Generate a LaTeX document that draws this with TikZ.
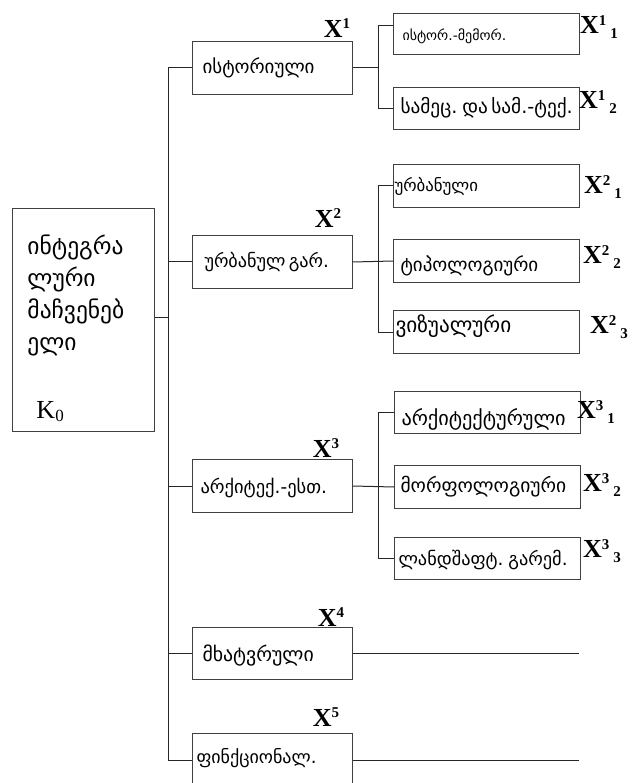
\documentclass[tikz,border=0pt]{standalone}
\usepackage{fontspec}
\setmainfont{Liberation Serif}
\newfontfamily\geo{DejaVu Sans}
\newcommand\gs[1]{\fontsize{#1}{#1}\selectfont}
\newcommand\pd[1]{\hspace*{#1pt}}
\newcommand\Xsup[1]{\textbf{X\raisebox{8.5pt}{\gs{15}#1}}}
\newcommand\Xsub[2]{\textbf{X\raisebox{8pt}{\gs{15}#1}\kern4pt\raisebox{-5pt}{\gs{15}#2}}}
\begin{document}
\begin{tikzpicture}[x=1pt,y=-1pt,
  lin/.style={draw=black!85, line width=1pt},
  bx/.style={draw=black!75, line width=1pt, rectangle, anchor=north west,
    align=left, inner xsep=0pt, inner ysep=0pt, font=\geo},
  one/.style={text height=#1, text depth=0pt},
  one/.default=10pt,
  mainbx/.style={bx, one, text width=160pt, minimum height=53pt},
  subbx/.style={bx, one, text width=186pt},
  xl/.style={font=\gs{26}, inner sep=0pt}]
\useasboundingbox (0,0) rectangle (632,783);
\begin{scope}
\clip (0,0) rectangle (632,783);
% main node
\node[bx, text width=128pt, inner xsep=7pt, minimum height=223pt] (k0) at (12,208)
  {\gs{23.5}\setlength\baselineskip{32pt}\rule{0pt}{36pt}\pd{8}ინტეგრა\\\pd{8}ლური\\\pd{8}მაჩვენებ\\\pd{8}ელი\\[44pt]
   \hspace*{17pt}\rmfamily\gs{26}K\raisebox{-3pt}{\gs{17}0}};
% level 1
\node[mainbx, one=11pt] (b1) at (192,41) {\pd{10}\gs{19}ისტორიული};
\node[mainbx] (b2) at (192,235) {\pd{12}\gs{18.2}ურბანულ გარ.};
\node[mainbx, one=15pt] (b3) at (192,459) {\pd{8}\gs{18.5}არქიტექ.-ესთ.};
\node[mainbx, one=16pt, minimum height=52pt] (b4) at (192,627) {\pd{10}\gs{19.8}მხატვრული};
\node[mainbx, one=7pt] (b5) at (192,733) {\pd{4}\gs{18}ფინქციონალ.};
% level 2
\node[subbx, one=13pt, minimum height=41pt] (b11) at (393,13) {\pd{9}\gs{14}ისტორ.-მემორ.};
\node[subbx, minimum height=42pt] (b12) at (393,87) {\pd{7}\gs{19.3}სამეც. და სამ.-ტექ.};
\node[subbx, one=11pt, minimum height=43pt] (b21) at (393,164) {\pd{1}\gs{16.8}ურბანული};
\node[subbx, one=22pt, minimum height=43pt] (b22) at (393,239) {\pd{7}\gs{19}ტიპოლოგიური};
\node[subbx, one=0pt, minimum height=43pt] (b23) at (393,310) {\pd{2}\gs{21.2}ვიზუალური};
\node[subbx, one=26pt, minimum height=42pt] (b31) at (394,391) {\pd{7}\gs{20.3}არქიტექტურული};
\node[subbx, minimum height=43pt] (b32) at (394,465) {\pd{6}\gs{19.5}მორფოლოგიური};
\node[subbx, one=14pt, minimum height=42pt] (b33) at (394,537) {\pd{4}\gs{18.3}ლანდშაფტ. გარემ.};
% connectors
\coordinate (tx) at (168,0);
\coordinate (s1) at (378,0);
\draw[lin] (b1.west) -- (b1.west -| tx) -- (b5.west -| tx) -- (b5.west);
\draw[lin] ([yshift=3pt]k0.east) -- ([yshift=3pt]k0.east -| tx);
\draw[lin] (b2.west) -- (b2.west -| tx);
\draw[lin] (b3.west) -- (b3.west -| tx);
\draw[lin] (b4.west) -- (b4.west -| tx);
\draw[lin] (b1.east) -- (b1.east -| s1);
\draw[lin] ([yshift=8pt]b11.west) -| (s1 |- b12.west) -- (b12.west);
\draw[lin] (b2.east) -- (b22.west);
\draw[lin] (b21.west) -| (s1 |- b23.west) -- (b23.west);
\draw[lin] (b3.east) -- (b32.west);
\draw[lin] (b31.west) -| (s1 |- b33.west) -- (b33.west);
\coordinate (e4) at (579,0);
\draw[lin] (b4.east) -- (b4.east -| e4);
\draw[lin] (b5.east) -- (b5.east -| e4);
% labels
\node[xl] (x1) at (337,28) {\Xsup{1}};
\node[xl] (x2) at (328,218) {\Xsup{2}};
\node[xl] (x3) at (326,448) {\Xsup{3}};
\node[xl] (x4) at (331,617) {\Xsup{4}};
\node[xl] (x5) at (326,717) {\Xsup{5}};
\node[xl] (x11) at (599,27) {\Xsub{1}{1}};
\node[xl] (x12) at (598,102) {\Xsub{1}{2}};
\node[xl] (x21) at (603,187) {\Xsub{2}{1}};
\node[xl] (x22) at (602,257) {\Xsub{2}{2}};
\node[xl] (x23) at (609,327) {\Xsub{2}{3}};
\node[xl] (x31) at (596,412) {\Xsub{3}{1}};
\node[xl] (x32) at (602,485) {\Xsub{3}{2}};
\node[xl] (x33) at (602,551) {\Xsub{3}{3}};
\end{scope}
\end{tikzpicture}
\end{document}
